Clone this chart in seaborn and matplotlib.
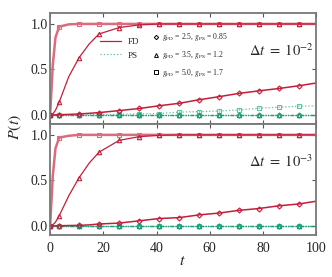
import numpy as np
import pandas as pd
import matplotlib
matplotlib.use("Agg")
import matplotlib.pyplot as plt
from matplotlib.lines import Line2D
import seaborn as sns

# sample times of the curves, and which of them carry a marker
t_line = [0, 1, 2, 3.4, 7, 10.9, 14.7, 18.4, 26, 33.5, 41, 48.5, 56, 63.5, 71, 78.5, 86, 93.5, 100]
mark_idx = [0, 3, 5, 7, 8, 9, 10, 11, 12, 13, 14, 15, 16, 17]

# dt = 1e-2 panel
fd_sq_2 = [0, 0.55, 0.85, 0.97, 0.995, 1.0, 1.0, 1.0, 1.0, 1.0, 1.0, 1.0, 1.0, 1.0, 1.0, 1.0, 1.0, 1.0, 1.0]
fd_tri_2 = [0, 0.01, 0.05, 0.14, 0.42, 0.63, 0.78, 0.89, 0.96, 0.99, 1.0, 1.0, 1.0, 1.0, 1.0, 1.0, 1.0, 1.0, 1.0]
fd_dia_2 = [0, 0, 0, 0.002, 0.005, 0.01, 0.017, 0.025, 0.047, 0.07, 0.10, 0.127, 0.166, 0.20, 0.236, 0.264, 0.29, 0.32, 0.35]
ps_sq_2 = [0, 0, 0, 0, 0, 0, 0, 0.002, 0.005, 0.01, 0.015, 0.03, 0.036, 0.042, 0.054, 0.073, 0.084, 0.095, 0.10]
ps_tri_2 = [0] * 19
ps_dia_2 = [0] * 19

# dt = 1e-3 panel
fd_sq_3 = [0, 0.55, 0.85, 0.97, 0.99, 1.0, 1.0, 1.0, 1.0, 1.0, 1.0, 1.0, 1.0, 1.0, 1.0, 1.0, 1.0, 1.0, 1.0]
fd_tri_3 = [0, 0.01, 0.04, 0.11, 0.33, 0.53, 0.69, 0.81, 0.94, 0.98, 0.995, 1.0, 1.0, 1.0, 1.0, 1.0, 1.0, 1.0, 1.0]
fd_dia_3 = [0, 0, 0, 0.001, 0.003, 0.005, 0.01, 0.02, 0.03, 0.055, 0.08, 0.09, 0.12, 0.14, 0.17, 0.19, 0.22, 0.24, 0.27]
ps_sq_3 = [0] * 19
ps_tri_3 = [0] * 19
ps_dia_3 = [0] * 19

g_labels = [r"$g_{\rm FD}$ = 2.5, $g_{\rm PS}$ = 0.85",
            r"$g_{\rm FD}$ = 3.5, $g_{\rm PS}$ = 1.2",
            r"$g_{\rm FD}$ = 5.0, $g_{\rm PS}$ = 1.7"]

red = "#c41e3a"
pink = "#dc6b7e"
green = "#1b9e77"
lightgreen = "#5fc4a4"

sns.set_theme(style="ticks")
plt.rcParams["font.family"] = ["Liberation Serif", "DejaVu Serif"]
plt.rcParams["mathtext.fontset"] = "stix"

fig, axes = plt.subplots(2, 1, figsize=(3.32, 2.77), dpi=100, sharex=True)
fig.subplots_adjust(left=0.151, right=0.952, top=0.953, bottom=0.152, hspace=0.0)


def curve(ax, y, color, lw, marker, ls="-", ms=3.2, alpha=1.0):
    sns.lineplot(x=t_line, y=y, ax=ax, color=color, lw=lw, ls=ls, alpha=alpha,
                 marker=marker, markevery=mark_idx, markersize=ms,
                 markerfacecolor="none", markeredgecolor=color,
                 markeredgewidth=0.8)


panels = [
    (axes[0], fd_sq_2, fd_tri_2, fd_dia_2, ps_sq_2, ps_tri_2, ps_dia_2, r"$\Delta t\ =\ 10^{-2}$"),
    (axes[1], fd_sq_3, fd_tri_3, fd_dia_3, ps_sq_3, ps_tri_3, ps_dia_3, r"$\Delta t\ =\ 10^{-3}$"),
]

for ax, fsq, ftri, fdia, psq, ptri, pdia, label in panels:
    curve(ax, psq, lightgreen, 0.9, "s", ls=":")
    curve(ax, ptri, green, 0.9, "^", ls=(0, (3, 1, 1, 1, 1, 1)))
    curve(ax, pdia, green, 0.9, "D", ls=(0, (3, 1, 1, 1, 1, 1)), ms=2.6)
    curve(ax, fsq, pink, 1.8, "s")
    curve(ax, ftri, red, 0.9, "^")
    curve(ax, fdia, red, 1.1, "D", ms=2.6)

    ax.set_xlim(0, 100)
    ax.set_ylim(-0.1, 1.12)
    ax.set_yticks([0.0, 0.5, 1.0])
    ax.set_yticklabels(["0.0", "0.5", "1.0"])
    ax.set_xticks([0, 20, 40, 60, 80, 100])
    ax.tick_params(direction="in", top=True, right=True, length=3, width=0.8,
                   labelsize=10, color="#555555")
    ax.tick_params(axis="y", pad=1.5)
    ax.tick_params(axis="x", pad=5)
    for s in ax.spines.values():
        s.set_color("#777777")
        s.set_linewidth(1.3)
    ax.text(0.99, 0.66, label, transform=ax.transAxes, ha="right", va="center",
            fontsize=10.5)

axes[1].set_xticklabels(["0", "20", "40", "60", "80", "100"])

# legend: line styles
h1 = [Line2D([], [], color=red, lw=0.9),
      Line2D([], [], color=lightgreen, lw=0.9, ls=":")]
leg1 = axes[0].legend(h1, ["FD", "PS"], loc="center left",
                      bbox_to_anchor=(0.188, 0.68), frameon=False, fontsize=6.5,
                      handlelength=2.3, handletextpad=0.8, labelspacing=0.6,
                      borderpad=0, borderaxespad=0)
axes[0].add_artist(leg1)

# legend: couplings
h2 = [Line2D([], [], ls="none", marker=m, ms=ms, mfc="none", mec="black", mew=0.7)
      for m, ms in zip(["D", "^", "s"], [2.2, 2.8, 2.8])]
axes[0].legend(h2, g_labels, loc="center left", bbox_to_anchor=(0.385, 0.62),
               frameon=False, fontsize=5.5, handlelength=0.8, handletextpad=0.5,
               labelspacing=0.75, borderpad=0, borderaxespad=0)

fig.text(0.045, 0.54, r"$P(t)$", rotation=90, ha="center", va="center", fontsize=11.5)
fig.text(0.55, 0.058, r"$t$", ha="center", va="center", fontsize=11.5)

fig.savefig("out.png", dpi=100)
